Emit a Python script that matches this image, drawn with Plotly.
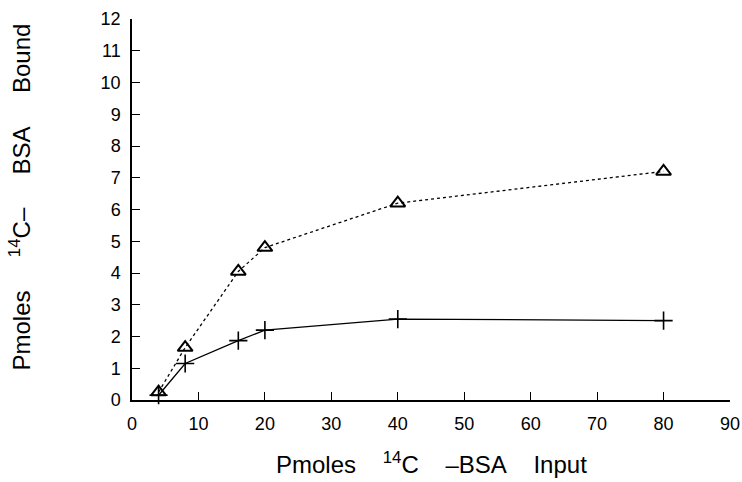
import plotly.graph_objects as go

x_input = [4, 8, 16, 20, 40, 80]
bound_triangle = [0.25, 1.65, 4.05, 4.8, 6.2, 7.2]
bound_plus = [0.15, 1.15, 1.87, 2.2, 2.55, 2.5]

x_ticks = [0, 10, 20, 30, 40, 50, 60, 70, 80, 90]
y_ticks = list(range(0, 13))

fig = go.Figure()
fig.add_trace(go.Scatter(
    x=x_input, y=bound_triangle, mode="lines+markers",
    line=dict(color="black", width=1.3, dash="3px,3px"),
    marker=dict(symbol="triangle-up-open", size=13, color="black",
                line=dict(width=2, color="black")),
    showlegend=False, cliponaxis=False))
fig.add_trace(go.Scatter(
    x=x_input, y=bound_plus, mode="lines+markers",
    line=dict(color="black", width=1.3),
    marker=dict(symbol="cross-thin-open", size=13, color="black",
                line=dict(width=1.6, color="black")),
    showlegend=False, cliponaxis=False))

font_family = "Liberation Sans, Arial, sans-serif"
sp = "\u00a0" * 4
sp_y = "\u00a0" * 5
x_title = f"Pmoles{sp}<sup>14</sup>C{sp}\u2013BSA{sp}Input"
y_title = f"Pmoles{sp_y}<sup>14</sup>C\u2013{sp_y}BSA{sp_y}Bound"

fig.update_layout(
    width=742, height=482,
    margin=dict(l=132, r=12, t=19, b=82),
    paper_bgcolor="white", plot_bgcolor="white",
    font=dict(family=font_family, color="black", size=15),
    xaxis=dict(range=[0, 90], tickvals=x_ticks, ticktext=[str(v) for v in x_ticks],
               ticks="inside", ticklen=8, tickwidth=1.2, tickcolor="black",
               showline=True, linecolor="black", linewidth=1.5,
               showgrid=False, zeroline=False, ticklabelstandoff=7,
               tickfont=dict(size=18), automargin=False),
    yaxis=dict(range=[0, 12], tickvals=y_ticks, ticktext=[str(v) for v in y_ticks],
               ticks="inside", ticklen=8, tickwidth=1.2, tickcolor="black",
               showline=True, linecolor="black", linewidth=1.5,
               showgrid=False, zeroline=False, ticklabelstandoff=6,
               tickfont=dict(size=18), automargin=False),
    annotations=[
        dict(text=x_title, xref="paper", yref="paper",
             x=0.5, y=-0.165, xanchor="center", yanchor="middle", showarrow=False,
             font=dict(size=24, family=font_family)),
        dict(text=y_title, xref="paper", yref="paper",
             x=-0.188, y=0.533, xanchor="center", yanchor="middle", showarrow=False,
             textangle=-90, font=dict(size=24, family=font_family)),
    ],
)

fig.write_html("out.html")
